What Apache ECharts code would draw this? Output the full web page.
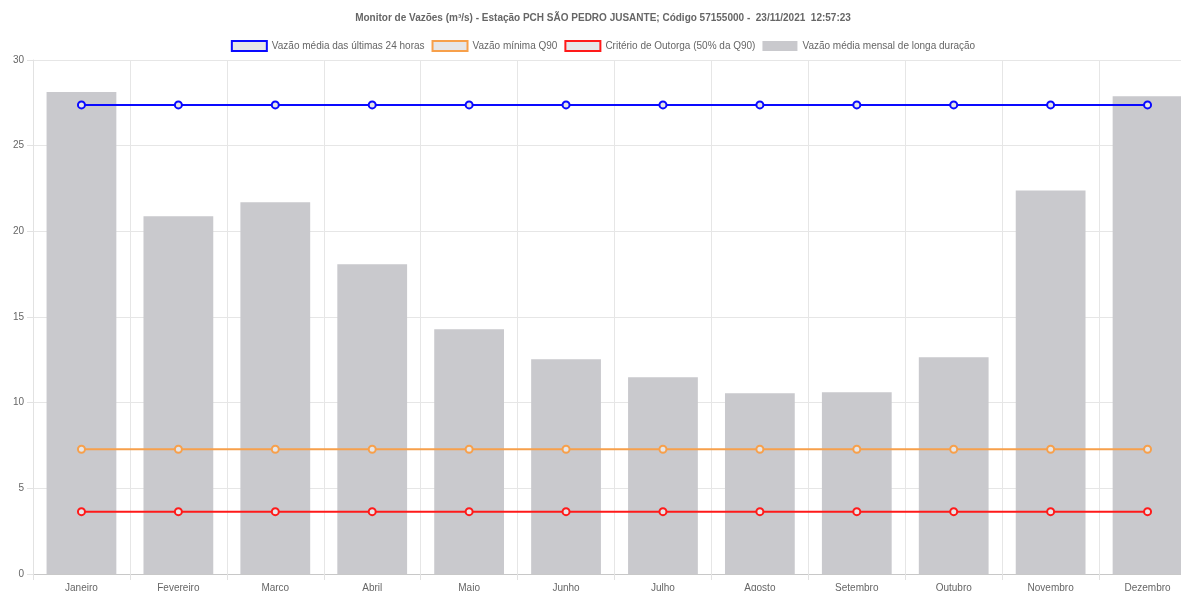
<!DOCTYPE html>
<html>
<head>
<meta charset="utf-8">
<script src="https://cdn.jsdelivr.net/npm/echarts@6/dist/echarts.min.js"></script>
<style>
html,body{margin:0;padding:0;background:#fff;overflow:hidden;width:1181px;height:591px;}
#chart{width:1206px;height:600px;}
</style>
</head>
<body>
<div id="chart"></div>
<script>
const titleText = 'Monitor de Vazões (m³/s) - Estação PCH SÃO PEDRO JUSANTE; Código 57155000 -  23/11/2021  12:57:23';
const months = ['Janeiro','Fevereiro','Março','Abril','Maio','Junho','Julho','Agosto','Setembro','Outubro','Novembro','Dezembro'];
const seriesNames = ['Vazão média das últimas 24 horas','Vazão mínima Q90','Critério de Outorga (50% da Q90)','Vazão média mensal de longa duração'];
const vazao24h = [27.38,27.38,27.38,27.38,27.38,27.38,27.38,27.38,27.38,27.38,27.38,27.38];
const q90 = [7.28,7.28,7.28,7.28,7.28,7.28,7.28,7.28,7.28,7.28,7.28,7.28];
const outorga = [3.64,3.64,3.64,3.64,3.64,3.64,3.64,3.64,3.64,3.64,3.64,3.64];
const mediaMensal = [28.13,20.88,21.70,18.08,14.28,12.53,11.48,10.55,10.61,12.65,22.38,27.88];
const yTicks = [0,5,10,15,20,25,30];

const lineColors = ['#0a0aff','#f7a04b','#ff1a1a'];
const barColor = '#c9c9cd';
const legendFill = '#e6e6e8';
const font = 'Liberation Sans, Arial, sans-serif';

function lineSeries(name, data, color){
  return {
    name: name, type: 'line', data: data, z: 5,
    symbol: 'circle', symbolSize: 7,
    lineStyle: {color: color, width: 2},
    itemStyle: {color: legendFill, borderColor: color, borderWidth: 2},
    emphasis: {disabled: true}
  };
}

const chart = echarts.init(document.getElementById('chart'), null, {renderer: 'canvas'});
chart.setOption({
  animation: false,
  backgroundColor: '#fff',
  title: {
    text: titleText, left: 'center', top: 8,
    textStyle: {fontFamily: font, fontSize: 10, fontWeight: 'bold', color: '#666'}
  },
  legend: {
    top: 35, left: 'center', icon: 'rect', itemWidth: 35, itemHeight: 10, itemGap: 7,
    textStyle: {fontFamily: font, fontSize: 10, color: '#666'},
    data: [
      {name: seriesNames[0], itemStyle: {color: legendFill, borderColor: lineColors[0], borderWidth: 2}},
      {name: seriesNames[1], itemStyle: {color: legendFill, borderColor: lineColors[1], borderWidth: 2}},
      {name: seriesNames[2], itemStyle: {color: legendFill, borderColor: lineColors[2], borderWidth: 2}},
      {name: seriesNames[3], itemStyle: {color: barColor, borderWidth: 0}}
    ]
  },
  grid: {left: 33, top: 60, height: 514, right: 10, containLabel: false},
  xAxis: {
    type: 'category', data: months, boundaryGap: true,
    axisLine: {show: true, lineStyle: {color: '#c8c8c8'}},
    axisTick: {show: true, length: 6, lineStyle: {color: '#e2e2e2'}},
    splitLine: {show: true, lineStyle: {color: '#e6e6e6'}},
    axisLabel: {margin: 9, fontFamily: font, fontSize: 10, color: '#666'}
  },
  yAxis: {
    type: 'value', min: yTicks[0], max: yTicks[yTicks.length-1], interval: 5,
    axisLine: {show: true, lineStyle: {color: '#e2e2e2'}},
    axisTick: {show: true, length: 6, lineStyle: {color: '#e2e2e2'}},
    splitLine: {show: true, lineStyle: {color: '#e6e6e6'}},
    axisLabel: {margin: 9, fontFamily: font, fontSize: 10, color: '#666'}
  },
  series: [
    lineSeries(seriesNames[0], vazao24h, lineColors[0]),
    lineSeries(seriesNames[1], q90, lineColors[1]),
    lineSeries(seriesNames[2], outorga, lineColors[2]),
    {
      name: seriesNames[3], type: 'bar', data: mediaMensal, z: 2,
      barCategoryGap: '28%',
      itemStyle: {color: barColor},
      emphasis: {disabled: true}
    }
  ]
});
</script>
</body>
</html>
